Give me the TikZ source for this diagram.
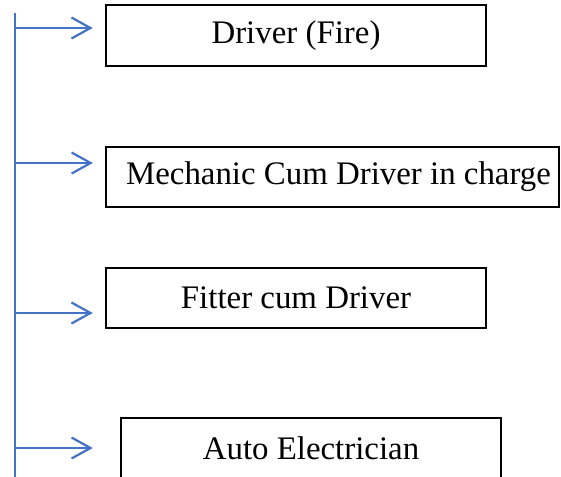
\documentclass[tikz,border=0pt]{standalone}
\usepackage{fontspec}
\setmainfont{Liberation Serif}
\usetikzlibrary{arrows.meta}
\definecolor{linkblue}{RGB}{68,114,196}
\tikzstyle{post} = [rectangle, draw=black, line width=2, minimum height=61, inner sep=0, text centered, font=\fontsize{33}{40}\selectfont]
\tikzstyle{trunk} = [draw=linkblue, line width=2.2]
\tikzstyle{arrow} = [trunk, -{Straight Barb[length=19bp, width=21bp, line width=2.2bp]}]

\begin{document}
\begin{tikzpicture}[x=1bp, y=-1bp]

    % Page frame
    \path[use as bounding box, clip] (0,0) rectangle (561,477);

    % Nodes
    \node (driver) [post, minimum width=382] at (296,35.5) {Driver (Fire)};
    \node (mechanic) [post, minimum width=455] at (332.5,177) {\hspace{12bp}Mechanic Cum Driver in charge};
    \node (fitter) [post, minimum width=382] at (296,298) {Fitter cum Driver};
    \node (electrician) [post, minimum width=382] at (311,448.5) {Auto Electrician};

    % Trunk
    \coordinate (top) at (15,13);
    \coordinate (bottom) at (15,480);
    \coordinate (b1) at (15,28);
    \coordinate (b2) at (15,163);
    \coordinate (b3) at (15,313);
    \coordinate (b4) at (15,448);
    \draw [trunk] (top) -- (bottom);

    % Arrows
    \draw [arrow, shorten >=12] (b1) -- (b1 -| driver.west);
    \draw [arrow, shorten >=12] (b2) -- (b2 -| mechanic.west);
    \draw [arrow, shorten >=12] (b3) -- (b3 -| fitter.west);
    \draw [arrow, shorten >=27] (b4) -- (b4 -| electrician.west);

\end{tikzpicture}
\end{document}
